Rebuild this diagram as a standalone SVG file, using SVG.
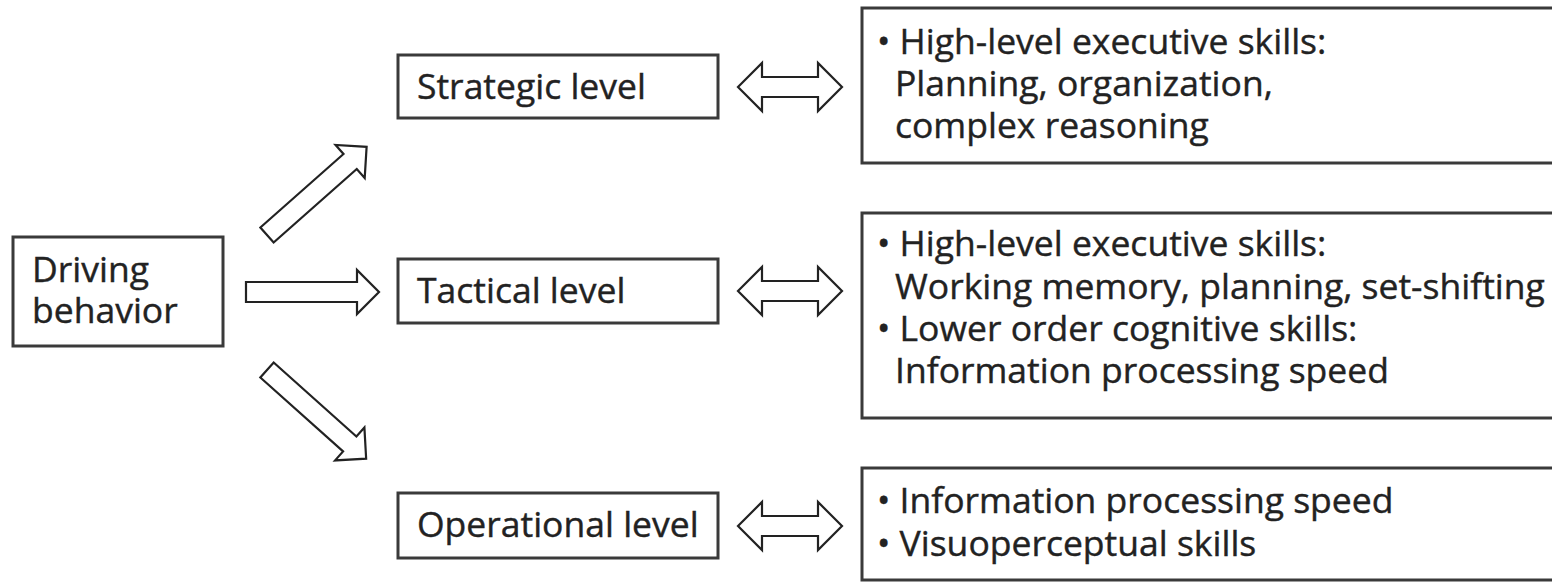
<svg xmlns="http://www.w3.org/2000/svg" width="1552" height="583" viewBox="0 0 1552 583">
<defs>
<style>
.box{fill:#fff;stroke:#3a3a3a;stroke-width:3}
.t{font-family:"Open Sans","Noto Sans",sans-serif;font-size:35.5px;fill:#222;stroke:#222;stroke-width:0.4}
.arr{fill:#fff;stroke:#222;stroke-width:2.2;stroke-linejoin:miter}
</style>
<path id="fwd" d="M0,-10 H111 V-22 L133,0 L111,22 V10 H0 Z"/>
<path id="dbl" d="M0,0 L24,-24 V-10 H80 V-24 L104,0 L80,24 V10 H24 V24 Z"/>
</defs>
<rect width="1552" height="583" fill="#fff"/>

<g id="driving">
<rect class="box" x="13" y="237" width="210" height="109"/>
<text class="t" x="32" y="282">Driving</text>
<text class="t" x="32" y="323">behavior</text>
</g>

<g id="strategic">
<rect class="box" x="398" y="55" width="320" height="63"/>
<text class="t" x="417" y="99">Strategic level</text>
</g>

<g id="tactical">
<rect class="box" x="398" y="259" width="320" height="64"/>
<text class="t" x="417" y="303">Tactical level</text>
</g>

<g id="operational">
<rect class="box" x="398" y="493" width="320" height="65"/>
<text class="t" x="417" y="537">Operational level</text>
</g>

<g id="strategic-skills">
<rect class="box" x="862" y="8" width="700" height="155"/>
<text class="t" x="877" y="54">• High-level executive skills:</text>
<text class="t" x="895" y="96">Planning, organization,</text>
<text class="t" x="895" y="138">complex reasoning</text>
</g>

<g id="tactical-skills">
<rect class="box" x="862" y="213" width="700" height="205"/>
<text class="t" x="877" y="256">• High-level executive skills:</text>
<text class="t" x="895" y="299">Working memory, planning, set-shifting</text>
<text class="t" x="877" y="341">• Lower order cognitive skills:</text>
<text class="t" x="895" y="383">Information processing speed</text>
</g>

<g id="operational-skills">
<rect class="box" x="862" y="468" width="700" height="112"/>
<text class="t" x="877" y="513">• Information processing speed</text>
<text class="t" x="877" y="556">• Visuoperceptual skills</text>
</g>

<g id="connectors">
<use href="#fwd" class="arr" transform="translate(246,292)"/>
<use href="#fwd" class="arr" transform="translate(267,235) rotate(-41.5)"/>
<use href="#fwd" class="arr" transform="translate(267,370) rotate(41.8)"/>
<use href="#dbl" class="arr" transform="translate(738,87)"/>
<use href="#dbl" class="arr" transform="translate(738,291)"/>
<use href="#dbl" class="arr" transform="translate(738,526)"/>
</g>
</svg>
